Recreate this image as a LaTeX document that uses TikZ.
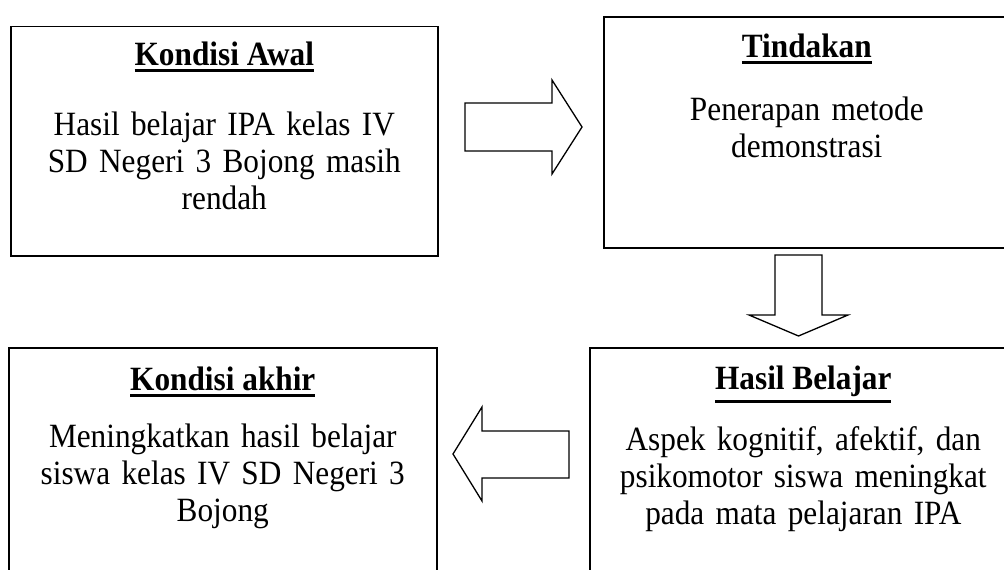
\documentclass[tikz,border=0pt]{standalone}
\usepackage{fontspec}
\setmainfont[FakeStretch=0.92]{Liberation Serif}
\usepackage{tikz}
\usetikzlibrary{positioning,calc}

\newcommand{\boxtitle}[1]{\setbox0=\hbox{\textbf{#1}}\vtop{\copy0\kern3.5pt\hrule height 3pt width \wd0}}

\begin{document}
\begin{tikzpicture}[
    x=1pt, y=-1pt,
    frame/.style={rectangle, draw, line width=1.6pt, anchor=north west},
    headtext/.style={anchor=base, inner sep=0pt, font=\fontsize{34}{37}\selectfont},
    bodytext/.style={anchor=base, inner sep=0pt, text width=420pt, align=center,
                 font=\fontsize{34}{37}\selectfont},
    fatarrow/.style={draw, line width=1.3pt, line join=miter, fill=white},
]
    \useasboundingbox (0,0) rectangle (1004,570);
    \clip (0,0) rectangle (1004,570);

    % boxes
    \node[frame, minimum width=427pt, minimum height=229.5pt] (awal) at (10,25.5) {};
    \node[frame, minimum width=406pt, minimum height=231pt] (tindakan) at (603,16) {};
    \node[frame, minimum width=428pt, minimum height=260pt] (akhir) at (8,347) {};
    \node[frame, minimum width=427pt, minimum height=260pt] (hasil) at (589,347) {};

    % titles and texts
    \node[headtext] (awal-t) at ([yshift=-40pt]awal.north) {\boxtitle{Kondisi Awal}};
    \node[bodytext] (awal-b) at ([yshift=-110pt]awal.north)
        {Hasil belajar IPA kelas IV\\ SD Negeri 3 Bojong masih\\ rendah};

    \node[headtext] (tindakan-t) at ([yshift=-41pt]tindakan.north) {\boxtitle{Tindakan}};
    \node[bodytext] (tindakan-b) at ([yshift=-104pt]tindakan.north)
        {Penerapan metode\\ demonstrasi};

    \node[headtext] (akhir-t) at ([yshift=-43pt]akhir.north) {\boxtitle{Kondisi akhir}};
    \node[bodytext] (akhir-b) at ([yshift=-100pt]akhir.north)
        {Meningkatkan hasil belajar\\ siswa kelas IV SD Negeri 3\\ Bojong};

    \node[headtext] (hasil-t) at ([yshift=-42pt]hasil.north) {\boxtitle{Hasil Belajar}};
    \node[bodytext] (hasil-b) at ([yshift=-103pt]hasil.north)
        {Aspek kognitif, afektif, dan\\ psikomotor siswa meningkat\\ pada mata pelajaran IPA};

    % block arrows
    \draw[fatarrow] (465,103) -- (552,103) -- (552,80) -- (582,127)
        -- (552,174) -- (552,151) -- (465,151) -- cycle;
    \draw[fatarrow] (775,255) -- (775,315) -- (749,315) -- (798.5,336)
        -- (848,315) -- (822,315) -- (822,255) -- cycle;
    \draw[fatarrow] (569,431) -- (482,431) -- (482,407) -- (453,454)
        -- (482,501) -- (482,478) -- (569,478) -- cycle;
\end{tikzpicture}
\end{document}
